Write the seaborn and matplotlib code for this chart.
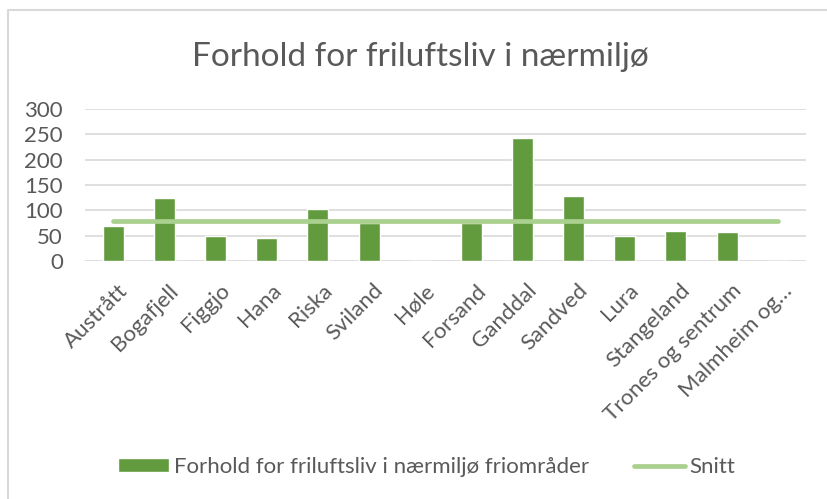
import pandas as pd
import seaborn as sns
import matplotlib.pyplot as plt
from matplotlib.lines import Line2D
from matplotlib.transforms import ScaledTranslation

categories = ['Austrått', 'Bogafjell', 'Figgjo', 'Hana', 'Riska', 'Sviland', 'Høle',
              'Forsand', 'Ganddal', 'Sandved', 'Lura', 'Stangeland', 'Trones og sentrum',
              'Malmheim og…']
values = [68, 125, 50, 45, 103, 74, 0, 74, 243, 129, 50, 60, 58, 0]
snitt = [78] * len(categories)

bar_label = 'Forhold for friluftsliv i nærmiljø friområder'
df = pd.DataFrame({'Område': categories, 'Verdi': values, 'Snitt': snitt})

sns.set_style('white')
plt.rcParams['font.family'] = ['Lato', 'DejaVu Sans']
txt = '#595959'

fig = plt.figure(figsize=(8.27, 4.99), dpi=100)
ax = fig.add_axes([0.103, 0.477, 0.872, 0.305])

sns.barplot(data=df, x='Område', y='Verdi', color='#629B3D', width=0.41,
            saturation=1, ax=ax, label=bar_label, zorder=2)
sns.lineplot(data=df, x='Område', y='Snitt', color='#A9D08E', linewidth=3.4,
             ax=ax, label='Snitt', zorder=3, solid_capstyle='round')

ax.set_ylim(0, 300)
ax.set_yticks(range(0, 301, 50))
ax.set_xlim(-0.55, len(categories) - 0.45)
ax.grid(axis='y', color='#D9D9D9', linewidth=1.2, zorder=0)
for s in ax.spines.values():
    s.set_visible(False)
ax.set_xlabel('')
ax.set_ylabel('')
ax.tick_params(axis='both', length=0, labelsize=16, colors=txt)
ax.tick_params(axis='y', pad=16)
ax.tick_params(axis='x', pad=14)
shift = ScaledTranslation(4 / 100, 0, fig.dpi_scale_trans)
for lab in ax.get_xticklabels():
    lab.set_rotation(45)
    lab.set_ha('right')
    lab.set_rotation_mode('anchor')
    lab.set_transform(lab.get_transform() + shift)

fig.text(0.508, 0.868, 'Forhold for friluftsliv i nærmiljø', ha='center', va='baseline',
         fontsize=24, color=txt)

handles, labels = ax.get_legend_handles_labels()
order = [labels.index(bar_label), labels.index('Snitt')]
ax.legend([handles[i] for i in order], [labels[i] for i in order],
          loc='center', bbox_to_anchor=(0.516, 0.064), bbox_transform=fig.transFigure,
          ncol=2, frameon=False, fontsize=16, labelcolor=txt, handlelength=2.3,
          handleheight=0.6, handletextpad=0.22, columnspacing=2.0)

fig.lines.append(Line2D([0.0097, 0.0097, 1.0], [0.0, 0.98, 0.98], transform=fig.transFigure,
                        color='#D9D9D9', linewidth=1.5))

fig.savefig('out.png', dpi=100)
